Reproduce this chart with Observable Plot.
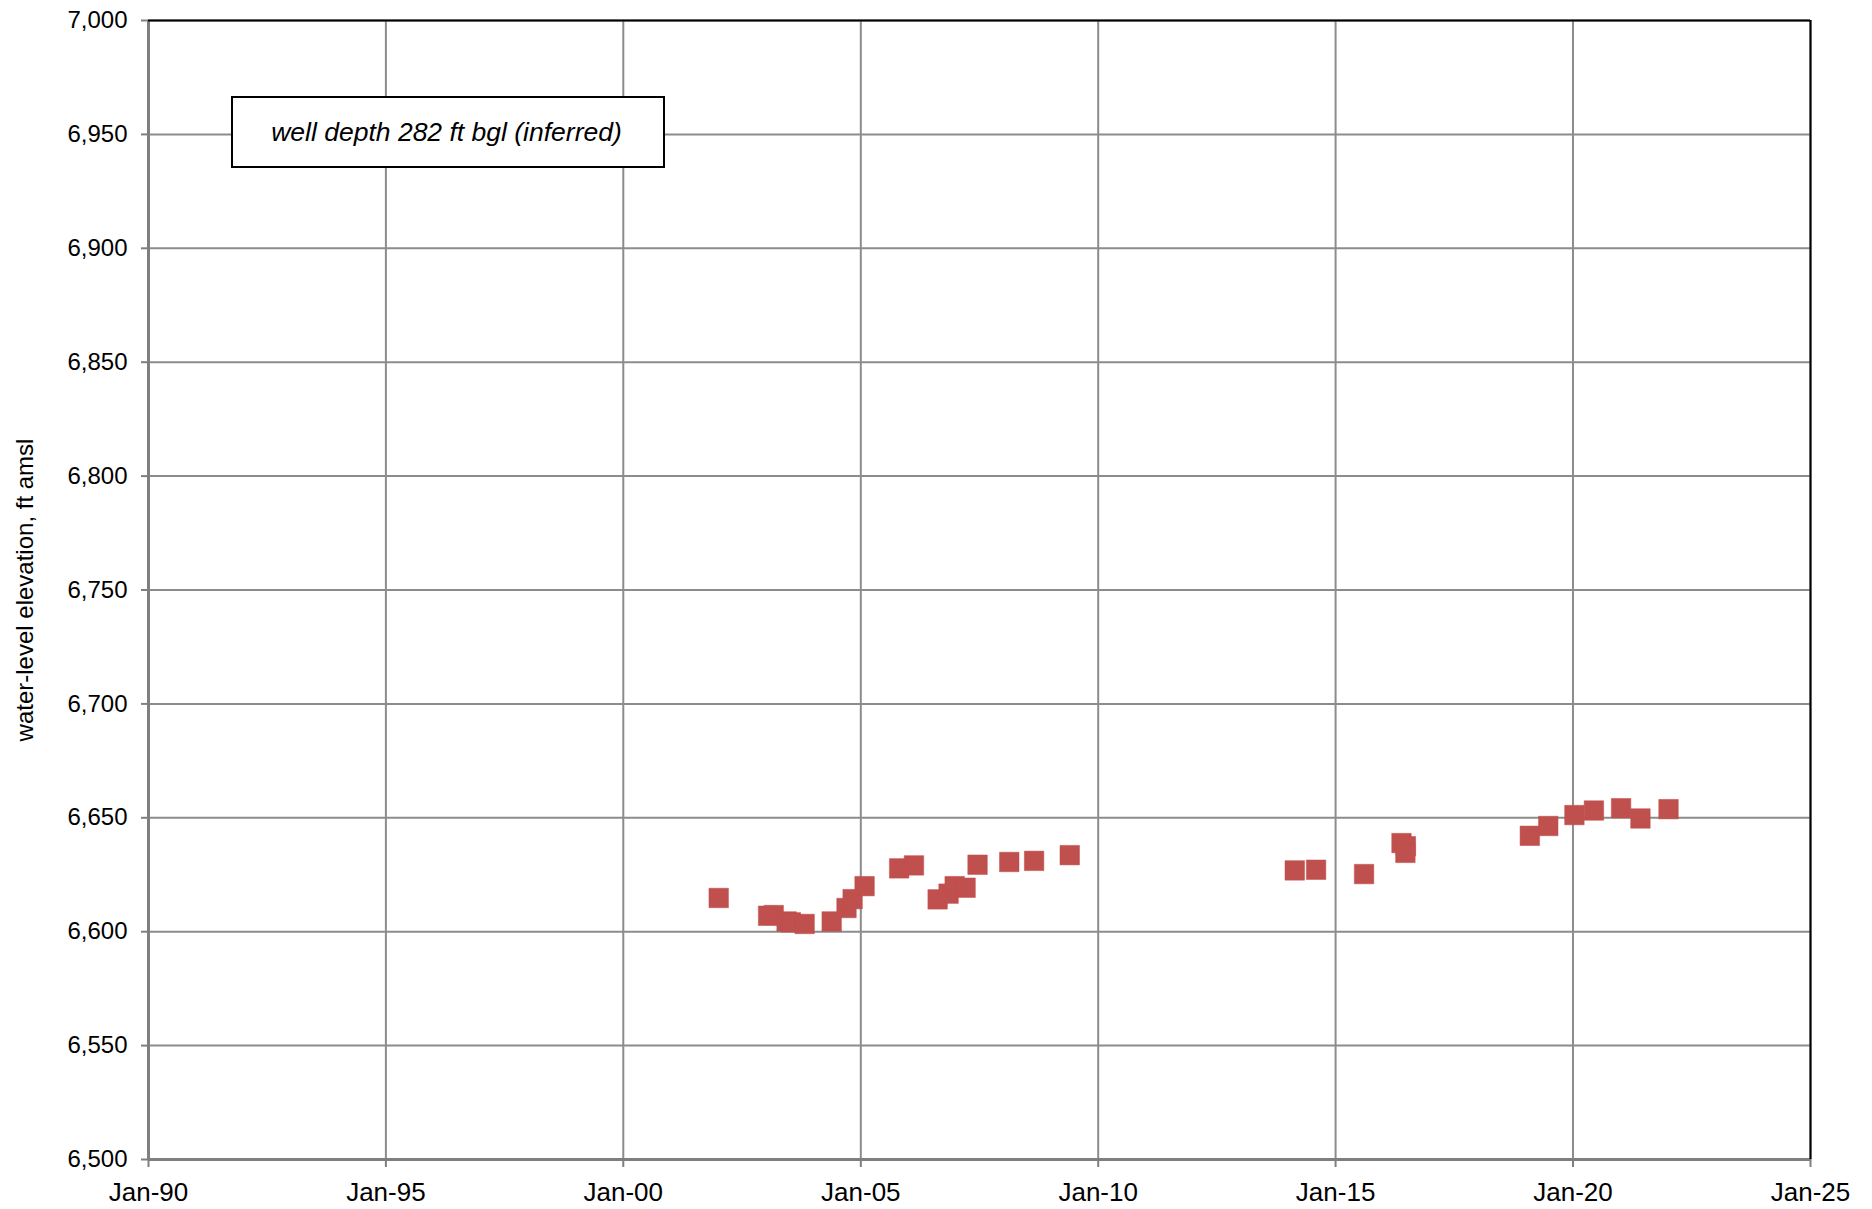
<!DOCTYPE html>
<html>
<head>
<meta charset="utf-8">
<script src="https://cdn.jsdelivr.net/npm/d3@7"></script>
<script src="https://cdn.jsdelivr.net/npm/@observablehq/plot@0.6"></script>
<style>
  html, body { margin: 0; padding: 0; background: #fff; }
  #chart { width: 1872px; height: 1209px; }
</style>
</head>
<body>
<div id="chart"></div>
<script>
// ---- data ----
const dates = [
  "2002-01-04", "2003-01-19", "2003-03-03", "2003-06-10", "2003-07-13",
  "2003-10-27", "2004-05-22", "2004-09-13", "2004-10-30", "2005-01-30",
  "2005-10-23", "2006-02-14", "2006-08-15", "2006-11-07", "2006-12-24",
  "2007-03-18", "2007-06-18", "2008-02-17", "2008-08-26", "2009-05-27",
  "2014-02-21", "2014-08-04", "2015-08-08", "2016-05-22", "2016-06-25",
  "2016-06-21", "2019-02-03", "2019-06-25", "2020-01-12", "2020-06-10",
  "2021-01-05", "2021-06-03", "2022-01-05"
];
const elevations = [
  6614.8, 6607.0, 6607.3, 6604.5, 6604.1,
  6603.4, 6604.5, 6610.4, 6614.3, 6620.0,
  6627.8, 6629.1, 6614.2, 6616.7, 6620.0,
  6619.3, 6629.4, 6630.6, 6631.1, 6633.6,
  6626.9, 6627.2, 6625.3, 6638.9, 6637.5,
  6634.6, 6642.1, 6646.4, 6651.2, 6653.2,
  6654.2, 6649.7, 6653.8
];
const xTickDates = ["1990-01-01", "1995-01-01", "2000-01-01", "2005-01-01", "2010-01-01",
                    "2015-01-01", "2020-01-01", "2025-01-01"];
const yTicks = [6500, 6550, 6600, 6650, 6700, 6750, 6800, 6850, 6900, 6950, 7000];
const yTitle = "water-level elevation, ft amsl";
const note = "well depth 282 ft bgl (inferred)";

// ---- build table ----
const xTicks = xTickDates.map(d => new Date(d + "T00:00:00Z"));
const data = dates.map((d, i) => ({date: new Date(d + "T00:00:00Z"), value: elevations[i]}));
const xMin = xTicks[0], xMax = xTicks[xTicks.length - 1];
const yMin = yTicks[0], yMax = yTicks[yTicks.length - 1];

const FONT = "'Liberation Sans', Arial, Helvetica, sans-serif";
const GRID = "#8c8c8c";

// annotation box drawn in pixels relative to the plot frame
const noteBox = (index, scales, values, dimensions) => {
  const g = d3.create("svg:g");
  g.append("rect")
    .attr("x", dimensions.marginLeft + 84)
    .attr("y", dimensions.marginTop + 77)
    .attr("width", 432)
    .attr("height", 70)
    .attr("fill", "white")
    .attr("stroke", "black")
    .attr("stroke-width", 2);
  return g.node();
};

const chart = Plot.plot({
  width: 1872,
  height: 1209,
  marginLeft: 148,
  marginRight: 62,
  marginTop: 20,
  marginBottom: 50,
  style: {fontFamily: FONT, fontSize: "24px", color: "black", background: "white"},
  x: {type: "utc", domain: [xMin, xMax]},
  y: {domain: [yMin, yMax]},
  marks: [
    Plot.ruleX(xTicks, {stroke: GRID, strokeWidth: 2}),
    Plot.ruleY(yTicks, {stroke: GRID, strokeWidth: 2}),
    Plot.ruleX([xMin], {stroke: "#7f7f7f", strokeWidth: 3}),
    Plot.ruleY([yMin], {stroke: "#7f7f7f", strokeWidth: 3}),
    Plot.ruleX([xMax], {stroke: "black", strokeWidth: 2}),
    Plot.ruleY([yMax], {stroke: "black", strokeWidth: 2}),
    Plot.axisY({
      ticks: yTicks, tickFormat: d3.format(","), tickSize: 7, tickPadding: 14,
      stroke: "#7f7f7f", strokeWidth: 2, fill: "black", fontSize: 24, label: null
    }),
    Plot.axisX({
      ticks: xTicks, tickFormat: d3.utcFormat("%b-%y"), tickSize: 8, tickPadding: 15,
      stroke: "#7f7f7f", strokeWidth: 2, fill: "black", fontSize: 26, label: null
    }),
    Plot.text([yTitle], {
      frameAnchor: "left", dx: -123, rotate: -90, textAnchor: "middle",
      fontSize: 24, fill: "black"
    }),
    noteBox,
    Plot.text([note], {
      frameAnchor: "top-left", dx: 298, dy: 112, textAnchor: "middle", lineAnchor: "middle",
      fontSize: 26.5, fontStyle: "italic", fill: "black"
    }),
    Plot.dot(data, {
      x: "date", y: "value", symbol: "square", r: 11,
      fill: "#C0504D", stroke: "#C0504D", strokeOpacity: 0.5, strokeWidth: 1
    })
  ]
});
document.getElementById("chart").appendChild(chart);
</script>
</body>
</html>
